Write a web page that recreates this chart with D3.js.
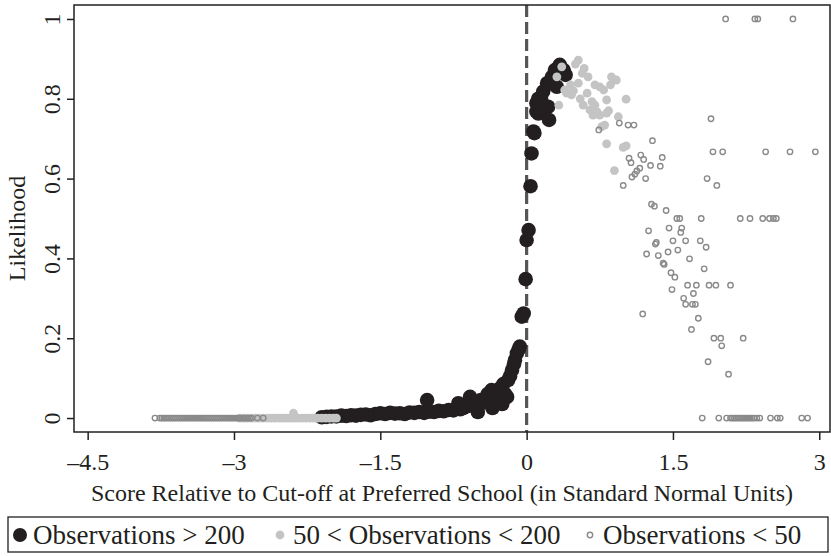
<html>
<head>
<style>
  body { margin: 0; background: #fff; }
  svg { display: block; }
  text { font-family: "Liberation Serif", "Times New Roman", serif; fill: #231f20; }
</style>
</head>
<body>
<script src="https://d3js.org/d3.v7.min.js"></script>
<script>
var width = 831, height = 556;

// ticks
const xTicks = [-4.5, -3, -1.5, 0, 1.5, 3];
const yTicks = [0, 0.2, 0.4, 0.6, 0.8, 1];

// Observations > 200
const blackX = [-2.10, -2.05, -2.00, -1.95, -1.90, -1.85, -1.80, -1.75, -1.70, -1.65, -1.60, -1.55, -1.50, -1.45, -1.40, -1.35, -1.30, -1.25, -1.20, -1.15, -1.10, -1.05, -1.02, -1.00, -0.95, -0.90, -0.85, -0.80, -0.75, -0.70, -0.68, -0.65, -0.60, -0.58, -0.55, -0.50, -0.50, -0.47, -0.45, -0.42, -0.40, -0.36, -0.35, -0.33, -0.30, -0.27, -0.25, -0.24, -0.22, -0.20, -0.19, -0.17, -0.15, -0.13, -0.12, -0.10, -0.08, -0.07, -0.05, -0.03, -0.01, 0.00, 0.02, 0.04, 0.05, 0.07, 0.08, 0.10, 0.10, 0.12, 0.12, 0.15, 0.16, 0.17, 0.21, 0.22, 0.23, 0.24, 0.26, 0.29, 0.31, 0.33, 0.34, 0.38, 0.40];
const blackY = [0.002, 0.003, 0.004, 0.004, 0.006, 0.005, 0.007, 0.006, 0.008, 0.009, 0.007, 0.010, 0.012, 0.010, 0.013, 0.011, 0.012, 0.010, 0.014, 0.013, 0.015, 0.013, 0.045, 0.016, 0.015, 0.018, 0.017, 0.020, 0.019, 0.037, 0.022, 0.025, 0.030, 0.053, 0.035, 0.040, 0.015, 0.045, 0.038, 0.050, 0.060, 0.070, 0.025, 0.055, 0.065, 0.075, 0.035, 0.085, 0.060, 0.053, 0.095, 0.105, 0.120, 0.135, 0.145, 0.162, 0.172, 0.179, 0.254, 0.262, 0.348, 0.446, 0.471, 0.581, 0.663, 0.718, 0.714, 0.789, 0.768, 0.763, 0.800, 0.797, 0.770, 0.818, 0.839, 0.780, 0.747, 0.839, 0.855, 0.872, 0.830, 0.880, 0.885, 0.872, 0.860];

// 50 < Observations < 200
const greyX = [-2.94, -2.90, -2.86, -2.82, -2.78, -2.74, -2.70, -2.66, -2.62, -2.58, -2.54, -2.50, -2.46, -2.42, -2.39, -2.38, -2.34, -2.30, -2.26, -2.22, -2.18, -2.14, -2.10, -2.06, -2.02, -1.98, -1.95,
  0.53, 0.50, 0.59, 0.57, 0.63, 0.87, 0.92, 0.86, 0.70, 0.75, 0.53, 0.45, 0.39, 0.41, 0.46, 0.62, 0.79, 0.82, 1.02, 0.58, 0.67, 0.70, 0.33, 0.65, 0.72, 0.84, 0.68, 0.75, 0.80, 0.77, 0.82, 0.99, 1.02, 0.90, 0.36, 0.31, 0.82, 0.94, 0.48, 0.55];
const greyY = [0, 0, 0, 0, 0, 0, 0, 0, 0, 0, 0, 0, 0, 0, 0.012, 0, 0, 0, 0, 0, 0, 0, 0, 0, 0, 0, 0,
  0.897, 0.887, 0.876, 0.864, 0.855, 0.855, 0.847, 0.835, 0.835, 0.830, 0.839, 0.835, 0.822, 0.814, 0.810, 0.814, 0.822, 0.797, 0.799, 0.784, 0.793, 0.784, 0.784, 0.772, 0.768, 0.770, 0.759, 0.759, 0.734, 0.730, 0.687, 0.678, 0.682, 0.620, 0.880, 0.855, 0.764, 0.755, 0.820, 0.800];

// Observations < 50
const hollowX = [-3.81, -3.76, -3.74, -3.72, -3.70, -3.68, -3.66, -3.64, -3.62, -3.60, -3.58, -3.56, -3.54, -3.52, -3.50, -3.48, -3.46, -3.44, -3.42, -3.40, -3.38, -3.36, -3.34, -3.32, -3.30, -3.28, -3.26, -3.24, -3.22, -3.20, -3.18, -3.16, -3.14, -3.12, -3.10, -3.08, -3.06, -3.04, -3.02, -3.00, -2.98, -2.96, -2.94, -2.92, -2.90, -2.88, -2.86, -2.84, -2.82, -2.76, -2.70,
  0.74, 2.04, 2.34, 2.37, 2.73, 1.89, 1.91, 2.01, 2.45, 2.70, 2.96, 1.85, 1.95,
  0.95, 1.04, 1.10, 1.29, 1.05, 1.07, 1.17, 1.20, 1.39, 1.27, 1.37, 1.16, 1.13, 1.11, 1.08, 1.22, 0.99,
  1.28, 1.31, 1.43, 1.54, 1.57, 1.79, 2.19, 2.29, 2.42, 2.49, 2.53, 2.56,
  1.25, 1.46, 1.59, 1.58, 1.33, 1.32, 1.50, 1.63, 1.78, 1.84, 1.23, 1.35, 1.45, 1.55, 1.67, 1.40, 1.41, 1.82, 1.48, 1.52, 1.49, 1.65, 1.74, 1.87, 1.94, 2.09, 1.71, 1.61, 1.63, 1.70, 1.73, 1.19, 1.76, 1.69, 1.92, 1.99, 2.00, 2.22, 1.86, 2.07,
  1.80, 1.97, 2.05, 2.09, 2.11, 2.13, 2.15, 2.17, 2.19, 2.21, 2.23, 2.25, 2.27, 2.29, 2.31, 2.33, 2.36, 2.39, 2.50, 2.57, 2.60, 2.82, 2.88];
const hollowY = [0, 0, 0, 0, 0, 0, 0, 0, 0, 0, 0, 0, 0, 0, 0, 0, 0, 0, 0, 0, 0, 0, 0, 0, 0, 0, 0, 0, 0, 0, 0, 0, 0, 0, 0, 0, 0, 0, 0, 0, 0, 0, 0, 0, 0, 0, 0, 0, 0, 0, 0,
  0.722, 1, 1, 1, 1, 0.75, 0.667, 0.667, 0.667, 0.667, 0.667, 0.60, 0.583,
  0.739, 0.734, 0.734, 0.695, 0.651, 0.640, 0.659, 0.648, 0.653, 0.633, 0.631, 0.626, 0.619, 0.611, 0.604, 0.600, 0.583,
  0.536, 0.531, 0.520, 0.50, 0.50, 0.50, 0.50, 0.50, 0.50, 0.50, 0.50, 0.50,
  0.469, 0.476, 0.476, 0.465, 0.440, 0.436, 0.444, 0.444, 0.444, 0.428, 0.411, 0.407, 0.416, 0.421, 0.399, 0.388, 0.385, 0.374, 0.364, 0.353, 0.322, 0.333, 0.333, 0.333, 0.333, 0.333, 0.312, 0.300, 0.285, 0.285, 0.285, 0.261, 0.250, 0.222, 0.200, 0.200, 0.181, 0.200, 0.141, 0.110,
  0, 0, 0, 0, 0, 0, 0, 0, 0, 0, 0, 0, 0, 0, 0, 0, 0, 0, 0, 0, 0, 0, 0];

const legendLabels = ["Observations > 200", "50 < Observations < 200", "Observations < 50"];

var svg = d3.select("body").append("svg")
    .attr("width", width)
    .attr("height", height);

var plot = {left: 74, right: 830, top: 5, bottom: 432};

var x = d3.scaleLinear().domain([-4.64, 3.11]).range([plot.left, plot.right]);
var y = d3.scaleLinear().domain([-0.035, 1.035]).range([plot.bottom, plot.top]);

// cut-off line
svg.append("line")
    .attr("x1", x(0)).attr("x2", x(0))
    .attr("y1", plot.top).attr("y2", plot.bottom)
    .attr("stroke", "#555")
    .attr("stroke-width", 3.2)
    .attr("stroke-dasharray", "12,5");

function pts(xs, ys) { return xs.map((d, i) => [d, ys[i]]); }

svg.append("g").selectAll("circle")
    .data(pts(blackX, blackY)).enter().append("circle")
    .attr("cx", d => x(d[0])).attr("cy", d => y(d[1]))
    .attr("r", 7.3).attr("fill", "#231f20");

svg.append("g").selectAll("circle")
    .data(pts(greyX, greyY)).enter().append("circle")
    .attr("cx", d => x(d[0])).attr("cy", d => y(d[1]))
    .attr("r", 4.4).attr("fill", "#c4c4c4");

svg.append("g").selectAll("circle")
    .data(pts(hollowX, hollowY)).enter().append("circle")
    .attr("cx", d => x(d[0])).attr("cy", d => y(d[1]))
    .attr("r", 2.7).attr("fill", "none")
    .attr("stroke", "#8a8a8a").attr("stroke-width", 1.4);

// frame
svg.append("rect")
    .attr("x", plot.left).attr("y", plot.top)
    .attr("width", plot.right - plot.left).attr("height", plot.bottom - plot.top)
    .attr("fill", "none").attr("stroke", "#231f20").attr("stroke-width", 1.5);

var fmt = d => (d < 0 ? "\u2013" + Math.abs(d) : String(d));

var gx = svg.append("g")
    .attr("transform", `translate(0,${plot.bottom})`)
    .call(d3.axisBottom(x).tickValues(xTicks).tickSize(8).tickPadding(13).tickFormat(fmt));
gx.select(".domain").remove();
gx.selectAll("line").attr("stroke", "#231f20").attr("stroke-width", 1.5);
gx.selectAll("text").attr("font-size", 24).attr("fill", "#231f20")
    .attr("font-family", "Liberation Serif");

var gy = svg.append("g")
    .attr("transform", `translate(${plot.left},0)`)
    .call(d3.axisLeft(y).tickValues(yTicks).tickSize(7).tickFormat(d => String(d)));
gy.select(".domain").remove();
gy.selectAll("line").attr("stroke", "#231f20").attr("stroke-width", 1.5);
gy.selectAll("text")
    .attr("x", null).attr("dy", null)
    .attr("transform", "translate(-14,0) rotate(-90)")
    .attr("text-anchor", "middle")
    .attr("font-size", 24).attr("fill", "#231f20")
    .attr("font-family", "Liberation Serif");

// axis titles
svg.append("text")
    .attr("x", 442).attr("y", 501)
    .attr("text-anchor", "middle").attr("font-size", 24)
    .text("Score Relative to Cut-off at Preferred School (in Standard Normal Units)");

svg.append("text")
    .attr("transform", `translate(25,${(plot.top + plot.bottom) / 2 + 10}) rotate(-90)`)
    .attr("text-anchor", "middle").attr("font-size", 24)
    .text("Likelihood");

// legend
var lg = svg.append("g");
lg.append("rect")
    .attr("x", 8).attr("y", 517).attr("width", 820).attr("height", 35)
    .attr("fill", "none").attr("stroke", "#231f20").attr("stroke-width", 1.3);
var lx = [20, 280, 590];
lg.append("circle").attr("cx", lx[0]).attr("cy", 535).attr("r", 7).attr("fill", "#231f20");
lg.append("circle").attr("cx", lx[1]).attr("cy", 535).attr("r", 4.4).attr("fill", "#c4c4c4");
lg.append("circle").attr("cx", lx[2]).attr("cy", 535).attr("r", 2.7).attr("fill", "none")
    .attr("stroke", "#8a8a8a").attr("stroke-width", 1.4);
lg.selectAll("text.lab").data(legendLabels).enter().append("text")
    .attr("class", "lab")
    .attr("x", (d, i) => lx[i] + 13).attr("y", 544)
    .attr("font-size", 27)
    .text(d => d);
</script>
</body>
</html>
